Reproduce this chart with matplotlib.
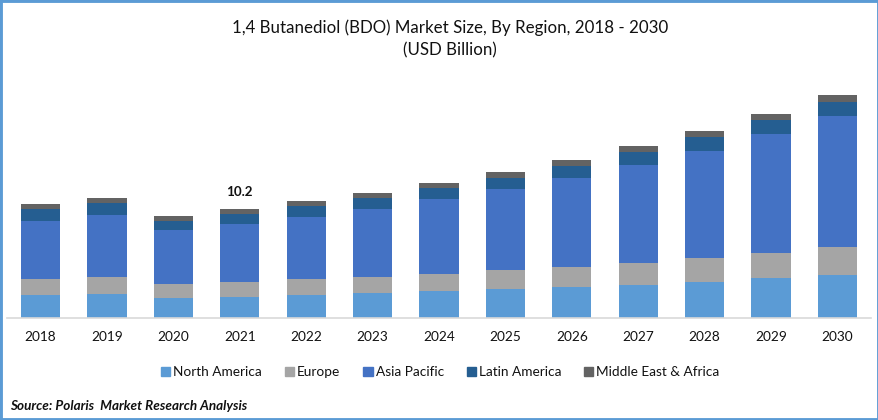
import numpy as np
import matplotlib
matplotlib.use("Agg")
import matplotlib.pyplot as plt
from matplotlib.patches import Rectangle, Patch

years = [2018, 2019, 2020, 2021, 2022, 2023, 2024, 2025, 2026, 2027, 2028, 2029, 2030]
north_america = [2.15, 2.25, 1.87, 1.97, 2.15, 2.34, 2.53, 2.71, 2.90, 3.09, 3.37, 3.74, 4.02]
europe = [1.50, 1.59, 1.31, 1.40, 1.50, 1.50, 1.59, 1.78, 1.87, 2.06, 2.25, 2.34, 2.62]
asia_pacific = [5.43, 5.80, 5.05, 5.43, 5.80, 6.36, 7.02, 7.58, 8.33, 9.17, 10.01, 11.14, 12.26]
latin_america = [1.12, 1.12, 0.84, 0.94, 1.03, 1.03, 1.03, 1.03, 1.12, 1.22, 1.31, 1.31, 1.31]
mea = [0.47, 0.47, 0.47, 0.47, 0.47, 0.47, 0.47, 0.56, 0.56, 0.56, 0.56, 0.56, 0.66]
series_names = ["North America", "Europe", "Asia Pacific", "Latin America", "Middle East & Africa"]
series = [north_america, europe, asia_pacific, latin_america, mea]
colors = ["#5B9BD5", "#A5A5A5", "#4472C4", "#255E91", "#636363"]
label_year = 2021
label_text = "10.2"
title = "1,4 Butanediol (BDO) Market Size, By Region, 2018 - 2030"
subtitle = "(USD Billion)"
source = "Source: Polaris  Market Research Analysis"

W, H = 879, 420
FONT = "Lato"
TEXT = "#111111"
plt.rcParams["font.family"] = [FONT, "DejaVu Sans"]

fig = plt.figure(figsize=(W / 100, H / 100), dpi=100, facecolor="white")
ax = fig.add_axes([7.3 / W, (H - 318) / H, (870.7 - 7.3) / W, (318 - 88) / H])
x = np.arange(len(years))
bottom = np.zeros(len(years))
for name, vals, c in zip(series_names, series, colors):
    ax.bar(x, vals, width=0.59, bottom=bottom, color=c, label=name, linewidth=0)
    bottom += np.array(vals)
ax.set_xlim(-0.5, len(years) - 0.5)
ax.set_ylim(0, (318 - 88) / 10.686)
ax.set_yticks([])
ax.set_xticks(x, [str(y) for y in years], fontsize=9.8, color=TEXT)
ax.tick_params(axis="x", length=0, pad=9.5)
for s in ["top", "left", "right"]:
    ax.spines[s].set_visible(False)
ax.spines["bottom"].set_color("#D9D9D9")
ax.spines["bottom"].set_linewidth(1.2)

i = years.index(label_year)
ax.annotate(label_text, (x[i], bottom[i]), xytext=(0, 8), textcoords="offset points",
            ha="center", va="bottom", fontsize=9.6, fontweight="bold", color=TEXT)

fig.text(450 / W, 1 - 27.5 / H, title, ha="center", va="center", fontsize=12.2, color=TEXT)
fig.text(450 / W, 1 - 50.5 / H, subtitle, ha="center", va="center", fontsize=12.2, color=TEXT)
fig.text(10 / W, 1 - 405.5 / H, source, ha="left", va="center", fontsize=9.7,
         fontweight="bold", fontstyle="italic", color=TEXT)

handles = [Patch(color=c, label=n) for c, n in zip(colors, series_names)]
fig.legend(handles=handles, loc="center", bbox_to_anchor=(440.5 / W, 1 - 372 / H), ncol=5, frameon=False,
           fontsize=9.85, handlelength=0.66, handleheight=0.66, handletextpad=0.22, columnspacing=1.68,
           labelcolor=TEXT)

fig.add_artist(Rectangle((0, 0), 1, 1, transform=fig.transFigure, fill=False,
                         edgecolor="#5B9BD5", linewidth=3.5, clip_on=True))
fig.savefig("out.png", dpi=100)
